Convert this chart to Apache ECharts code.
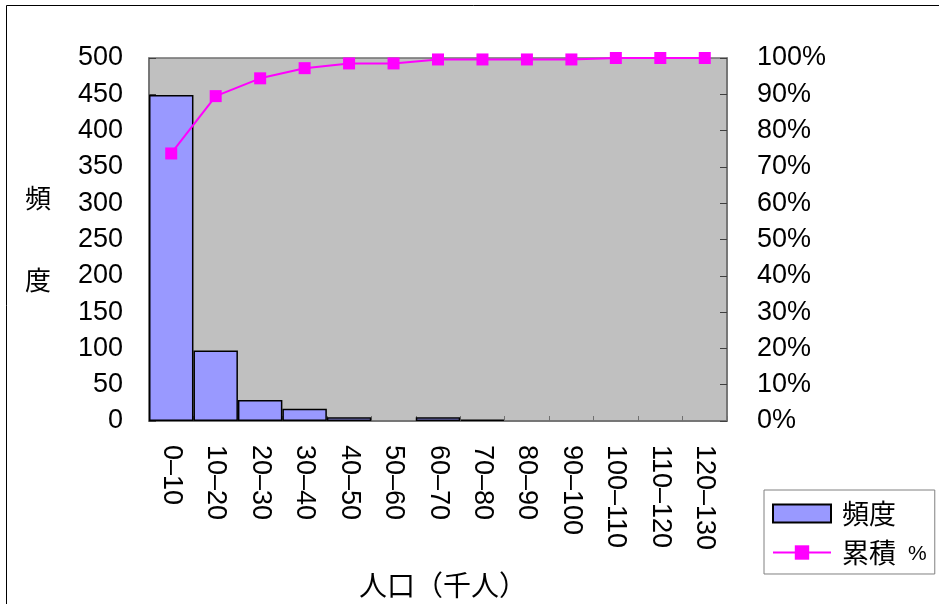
<!DOCTYPE html>
<html>
<head>
<meta charset="utf-8">
<script src="https://cdn.jsdelivr.net/npm/echarts@6/dist/echarts.min.js"></script>
<style>
  html, body { margin: 0; padding: 0; background: #fff; }
  #chart { width: 939px; height: 604px; }
</style>
</head>
<body>
<div id="chart"></div>
<script>
// Population classes (thousands of people)
const categories = ['0–10', '10–20', '20–30', '30–40', '40–50', '50–60', '60–70',
  '70–80', '80–90', '90–100', '100–110', '110–120', '120–130'];
// Frequency per class
const frequency = [449, 97, 29, 17, 5, 0, 5, 2, 0, 0, 0, 0, 0];
// Cumulative share, percent
const cumulative = [73.7, 89.5, 94.4, 97.2, 98.5, 98.5, 99.6, 99.6, 99.6, 99.6, 100, 100, 100];

const NUM_FONT = '"Liberation Sans", Arial, sans-serif';
const JP_FONT = '"Noto Sans CJK JP", sans-serif';

const chart = echarts.init(document.getElementById('chart'));

chart.setOption({
  animation: false,
  backgroundColor: '#fff',
  graphic: [{
    type: 'rect',
    shape: { x: 6.5, y: 5.5, width: 960, height: 640 },
    style: { fill: 'none', stroke: '#000', lineWidth: 1 },
    silent: true
  }],
  grid: {
    left: 149, right: 212, top: 58, bottom: 183,
    outerBoundsMode: 'none',
    containLabel: false,
    show: true,
    backgroundColor: '#C0C0C0',
    borderColor: '#707070',
    borderWidth: 1.5
  },
  legend: {
    orient: 'vertical',
    left: 764, top: 490,
    padding: [10, 8, 8, 8],
    itemGap: 12,
    itemWidth: 58,
    itemHeight: 18,
    borderColor: '#808080',
    borderWidth: 1,
    backgroundColor: '#fff',
    textStyle: {
      fontFamily: JP_FONT, fontSize: 27, color: '#000', padding: [0, 0, 0, 6],
      rich: { p: { fontFamily: NUM_FONT, fontSize: 21, color: '#000', padding: [4, 0, 0, 0] } }
    },
    formatter: function (name) {
      return name === '累積 %' ? '累積  {p|%}' : name;
    },
    data: [{ name: '頻度', icon: 'rect' }, { name: '累積 %' }]
  },
  xAxis: {
    type: 'category',
    data: categories,
    boundaryGap: true,
    name: '人口（千人）',
    nameLocation: 'middle',
    nameGap: 150,
    nameTextStyle: { fontFamily: JP_FONT, fontSize: 28, color: '#000', padding: [0, 0, 0, 10] },
    axisLine: { show: true, lineStyle: { color: '#707070', width: 1.5 } },
    axisTick: { show: true, inside: true, length: 5, lineStyle: { color: '#707070' } },
    axisLabel: {
      rotate: -90, margin: 24, interval: 0,
      fontFamily: NUM_FONT, fontSize: 27, color: '#000'
    },
    splitLine: { show: false }
  },
  yAxis: [{
    type: 'value',
    min: 0, max: 500, interval: 50,
    name: '頻\n\n度',
    nameLocation: 'middle',
    nameRotate: 0,
    nameGap: 98,
    nameTextStyle: { fontFamily: JP_FONT, fontSize: 26, color: '#000', lineHeight: 41 },
    axisLine: { show: true, lineStyle: { color: '#707070', width: 1.5 } },
    axisTick: { show: true, inside: true, length: 7, lineStyle: { color: '#404040' } },
    axisLabel: { margin: 26, fontFamily: NUM_FONT, fontSize: 27, color: '#000' },
    splitLine: { show: false }
  }, {
    type: 'value',
    min: 0, max: 100, interval: 10,
    position: 'right',
    axisLine: { show: true, lineStyle: { color: '#707070', width: 1.5 } },
    axisTick: { show: true, inside: true, length: 7, lineStyle: { color: '#404040' } },
    axisLabel: { margin: 30, formatter: '{value}%', fontFamily: NUM_FONT, fontSize: 27, color: '#000' },
    splitLine: { show: false }
  }],
  series: [{
    name: '頻度',
    type: 'bar',
    yAxisIndex: 0,
    barCategoryGap: '0%',
    barGap: '0%',
    itemStyle: { color: '#9999FF', borderColor: '#000', borderWidth: 1.5 },
    data: frequency.map(v => v === 0
      ? { value: v, itemStyle: { borderWidth: 0 } }
      : v)
  }, {
    name: '累積 %',
    type: 'line',
    yAxisIndex: 1,
    symbol: 'rect',
    symbolSize: 12,
    lineStyle: { color: '#FF00FF', width: 2 },
    itemStyle: { color: '#FF00FF' },
    data: cumulative
  }]
});
</script>
</body>
</html>
